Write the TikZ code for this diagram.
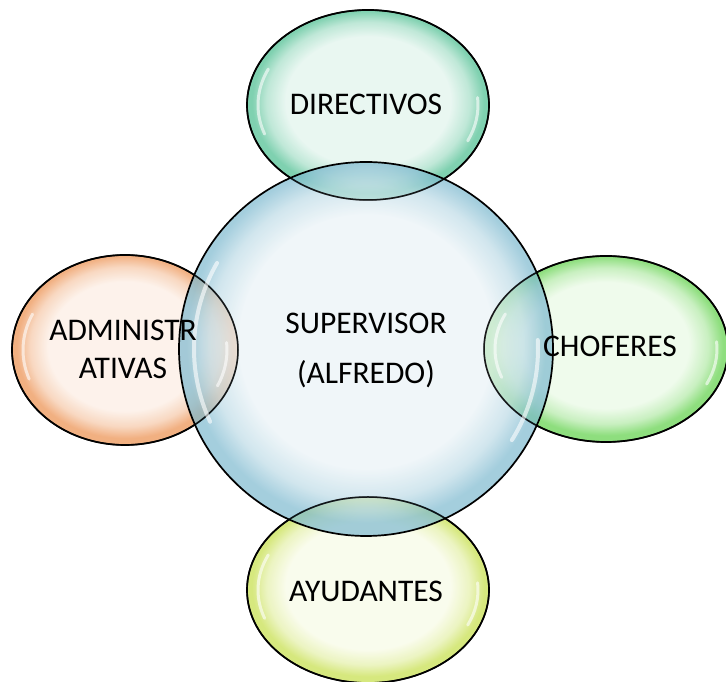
\documentclass[tikz,border=0pt]{standalone}
\usepackage{fontspec}
\setmainfont{Carlito}
\usetikzlibrary{shapes.geometric}

\definecolor{supIn}{HTML}{E9F2F6}\definecolor{supOut}{HTML}{7DB9CF}
\definecolor{dirIn}{HTML}{E4F5EE}\definecolor{dirOut}{HTML}{5FC59C}
\definecolor{admIn}{HTML}{FCEFE6}\definecolor{admOut}{HTML}{EE9C62}
\definecolor{choIn}{HTML}{EBFAE7}\definecolor{choOut}{HTML}{72D65E}
\definecolor{ayuIn}{HTML}{F8FBE8}\definecolor{ayuOut}{HTML}{CCE25E}

% glossy bubble: pale core, coloured rim
\pgfdeclareradialshading[bin,bout]{bubble}{\pgfpoint{0bp}{1.5bp}}{%
  color(0bp)=(bin); color(17bp)=(bin); color(21bp)=(bout!40!bin);
  color(24bp)=(bout); color(25bp)=(bout); color(50bp)=(bout)}

\tikzset{
  bubble/.style 2 args={ellipse, inner sep=0pt, draw=black, line width=1.7pt,
    /utils/exec={\colorlet{bin}{#1}\colorlet{bout}{#2}},
    shading=bubble, fill opacity=0.8, draw opacity=1},
  rim/.style={draw=black, line width=1.5pt, opacity=0.85},
  gloss/.style={draw=white, line width=4pt, line cap=round, opacity=0.6},
  label/.style={font=\fontsize{31.5}{38}\selectfont, text=black, align=center, inner sep=0pt},
}

\begin{document}
\begin{tikzpicture}[x=1pt,y=1pt]
\useasboundingbox (0,0) rectangle (726,682);

% outer bubbles
\node[bubble={dirIn}{dirOut}, minimum width=242, minimum height=190] (dir) at (368,577) {};
\node[bubble={admIn}{admOut}, minimum width=226, minimum height=190] (adm) at (125,332) {};
\node[bubble={choIn}{choOut}, minimum width=244, minimum height=186] (cho) at (606,333) {};
\node[bubble={ayuIn}{ayuOut}, minimum width=242, minimum height=186] (ayu) at (368,92) {};

% central bubble
\node[bubble={supIn}{supOut}, fill opacity=0.7, circle, minimum size=374] (sup) at (366,333) {};

% outer rims show through the central bubble
\draw[rim] (dir.center) ellipse[x radius=121, y radius=95];
\draw[rim] (adm.center) ellipse[x radius=113, y radius=95];
\draw[rim] (cho.center) ellipse[x radius=122, y radius=93];
\draw[rim] (ayu.center) ellipse[x radius=121, y radius=93];

% highlights
\draw[gloss] (sup.center) ++(150:172) arc[start angle=150, end angle=205, radius=172];
\draw[gloss] (sup.center) ++(-32:172) arc[start angle=-32, end angle=3, radius=172];
\foreach \n/\rx/\ry in {dir/110/85, adm/102/85, cho/111/83, ayu/110/83}{
  \draw[gloss, line width=3pt] (\n.center) ++({\rx*cos(155)},{\ry*sin(155)})
    arc[start angle=155, end angle=200, x radius=\rx, y radius=\ry];
  \draw[gloss, line width=3pt] (\n.center) ++({\rx*cos(-25)},{\ry*sin(-25)})
    arc[start angle=-25, end angle=5, x radius=\rx, y radius=\ry];
}

% texts
\node[label] (tsup) at (366,332) {SUPERVISOR\\[12pt](ALFREDO)};
\node[label] (tdir) at (366,578) {DIRECTIVOS};
\node[label] (tadm) at (123,333) {ADMINISTR\\ATIVAS};
\node[label] (tcho) at (610,336) {CHOFERES};
\node[label] (tayu) at (366,91) {AYUDANTES};
\end{tikzpicture}
\end{document}
